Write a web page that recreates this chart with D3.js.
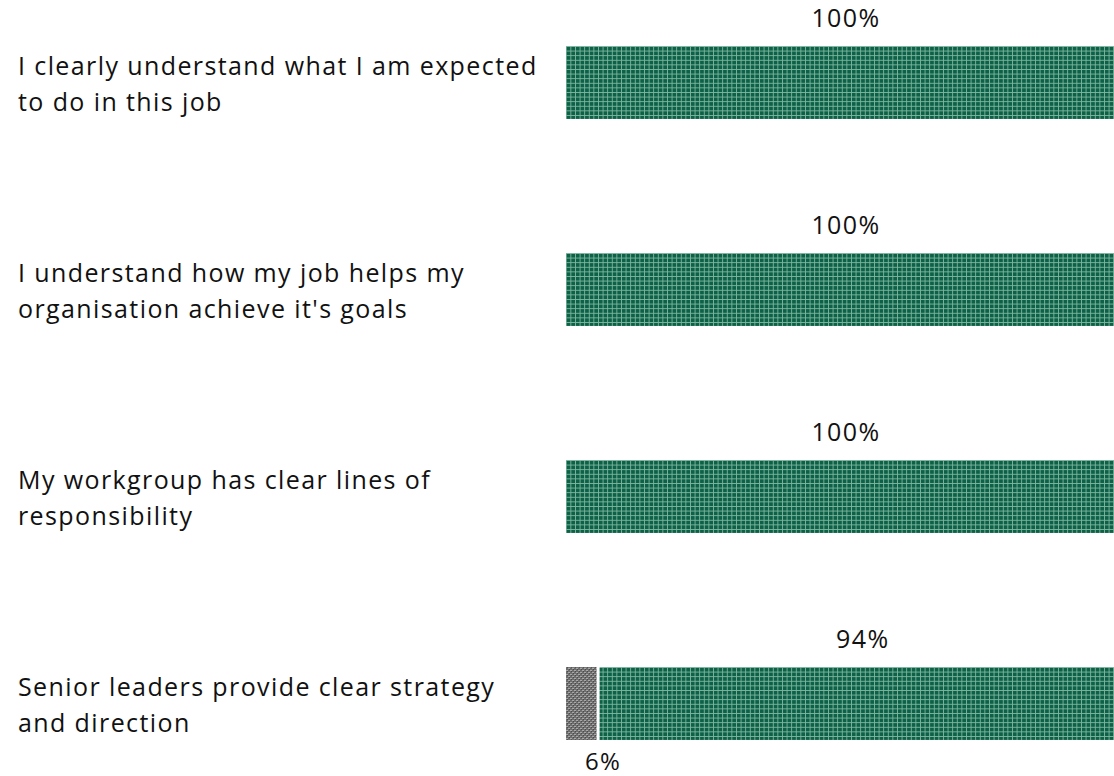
<!DOCTYPE html>
<html>
<head>
<meta charset="utf-8">
<script src="https://cdn.jsdelivr.net/npm/d3@7"></script>
<style>
  html, body { margin: 0; padding: 0; background: #fff; overflow: hidden; }
  svg { display: block; }
</style>
</head>
<body>
<div id="chart"></div>
<script>
// questions (already split into the two lines shown)
const questions = [
  ["I clearly understand what I am expected", "to do in this job"],
  ["I understand how my job helps my", "organisation achieve it's goals"],
  ["My workgroup has clear lines of", "responsibility"],
  ["Senior leaders provide clear strategy", "and direction"]
];
const neutralPct = [0, 0, 0, 6];
const agreePct = [100, 100, 100, 94];

const width = 1114, height = 776;
const font = "'Open Sans', sans-serif";

const rowsData = questions.map((q, i) => ({
  i, lines: q, neutral: neutralPct[i], agree: agreePct[i]
}));

const svg = d3.select("#chart").append("svg")
  .attr("width", width)
  .attr("height", height);

// fill patterns
const defs = svg.append("defs");
const gp = defs.append("pattern")
  .attr("id", "agree")
  .attr("patternUnits", "userSpaceOnUse")
  .attr("width", 4.6).attr("height", 4.6);
gp.append("rect").attr("width", 4.6).attr("height", 4.6).attr("fill", "#0c6147");
gp.append("rect").attr("width", 4.6).attr("height", 0.9).attr("fill", "#7fb5a0");
gp.append("rect").attr("width", 0.9).attr("height", 4.6).attr("fill", "#7fb5a0");

const np = defs.append("pattern")
  .attr("id", "neutral")
  .attr("patternUnits", "userSpaceOnUse")
  .attr("width", 4).attr("height", 4);
np.append("rect").attr("width", 4).attr("height", 4).attr("fill", "#6e6e6e");
np.append("rect").attr("x", 0).attr("y", 0).attr("width", 2).attr("height", 1).attr("fill", "#a8a8a8");
np.append("rect").attr("x", 2).attr("y", 2).attr("width", 2).attr("height", 1).attr("fill", "#a8a8a8");
np.append("rect").attr("x", 1).attr("y", 1).attr("width", 1).attr("height", 1).attr("fill", "#4a4a4a");
np.append("rect").attr("x", 3).attr("y", 3).attr("width", 1).attr("height", 1).attr("fill", "#4a4a4a");

// scales
const x = d3.scaleLinear().domain([0, 100]).range([566, 1126]);
const y = d3.scaleBand()
  .domain(d3.range(questions.length))
  .range([-21, 807])
  .paddingInner(0.648)
  .paddingOuter(0.324);

const rows = svg.selectAll("g.row")
  .data(rowsData)
  .join("g")
  .attr("class", "row");

// question labels
rows.append("text")
  .attr("font-family", font)
  .attr("font-size", "25px")
  .attr("letter-spacing", "1.4px")
  .attr("fill", "#111")
  .each(function (d) {
    const cy = y(d.i) + y.bandwidth() / 2;
    d3.select(this).selectAll("tspan")
      .data(d.lines)
      .join("tspan")
      .attr("x", 18)
      .attr("y", (t, j) => cy - 18 + j * 36)
      .attr("dominant-baseline", "central")
      .text((t) => t);
  });

// neutral segment
rows.filter((d) => d.neutral > 0)
  .append("rect")
  .attr("x", x(0))
  .attr("y", (d) => y(d.i))
  .attr("width", (d) => x(d.neutral) - x(0) - 3)
  .attr("height", y.bandwidth())
  .attr("fill", "url(#neutral)");

// agree segment
rows.append("rect")
  .attr("x", (d) => x(d.neutral))
  .attr("y", (d) => y(d.i))
  .attr("width", (d) => x(d.neutral + d.agree) - x(d.neutral))
  .attr("height", y.bandwidth())
  .attr("fill", "url(#agree)");

// value labels
rows.append("text")
  .attr("x", (d) => x(d.neutral + d.agree / 2))
  .attr("y", (d) => y(d.i) - 29)
  .attr("text-anchor", "middle")
  .attr("dominant-baseline", "central")
  .attr("font-family", font)
  .attr("font-size", "25px")
  .attr("letter-spacing", "1.4px")
  .attr("fill", "#111")
  .text((d) => d.agree + "%");

rows.filter((d) => d.neutral > 0)
  .append("text")
  .attr("x", (d) => x(0) + 19)
  .attr("y", (d) => y(d.i) + y.bandwidth() + 21)
  .attr("dominant-baseline", "central")
  .attr("font-family", font)
  .attr("font-size", "24px")
  .attr("letter-spacing", "1.4px")
  .attr("fill", "#111")
  .text((d) => d.neutral + "%");
</script>
</body>
</html>
